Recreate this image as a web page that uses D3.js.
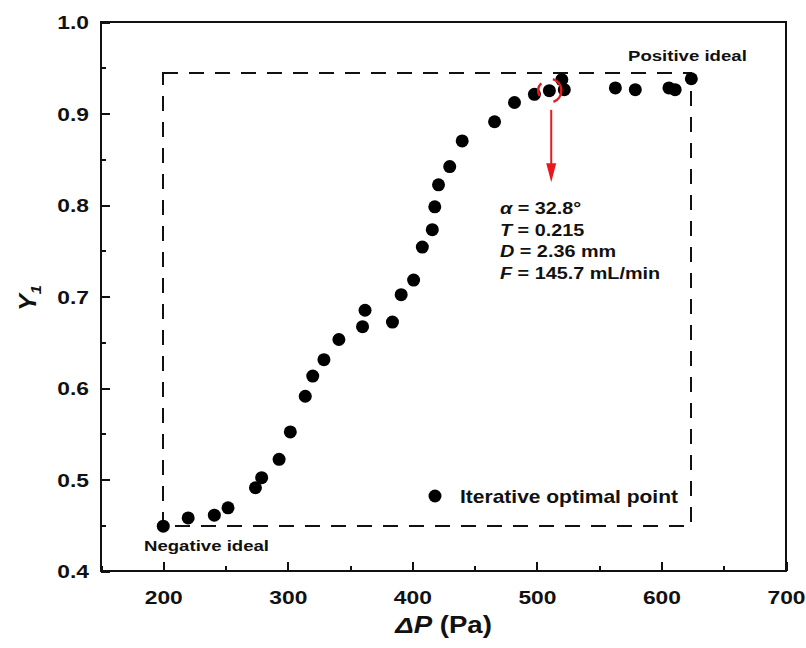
<!DOCTYPE html>
<html>
<head>
<meta charset="utf-8">
<script src="https://cdn.jsdelivr.net/npm/d3@7"></script>
<style>
  body { margin: 0; background: #fff; }
  text { font-family: 'Liberation Sans', Arial, sans-serif; font-weight: bold; fill: #111; }
</style>
</head>
<body>
<div class="container-y1"></div>
<script>
// iterative optimal points (ΔP in Pa, Y1)
const pressure = [200, 220, 241, 252, 274, 279, 293, 302, 314, 320, 329, 341, 360, 362, 384,
  391, 401, 408, 416, 418, 421, 430, 440, 466, 482, 498, 510, 520, 522, 563, 579, 606, 611, 624];
const y1 = [0.449, 0.458, 0.461, 0.469, 0.491, 0.502, 0.522, 0.552, 0.591, 0.613, 0.631, 0.653, 0.667, 0.685, 0.672,
  0.702, 0.718, 0.754, 0.773, 0.798, 0.822, 0.842, 0.870, 0.891, 0.912, 0.921, 0.925, 0.937, 0.926, 0.928, 0.926, 0.928, 0.926, 0.938];

const xTicks = [200, 300, 400, 500, 600, 700];
const xMinorTicks = [150, 250, 350, 450, 550, 650];
const yTicks = [0.4, 0.5, 0.6, 0.7, 0.8, 0.9, 1.0];
const yMinorTicks = [0.45, 0.55, 0.65, 0.75, 0.85, 0.95];

const negativeIdeal = [200, 0.449];
const positiveIdeal = [624, 0.944];
const chosenPoint = [510, 0.925];
const arrowFrom = [511.5, 0.904];
const arrowTo = [511.5, 0.825];
const chosenParams = [
  { sym: 'α', rest: ' = 32.8°' },
  { sym: 'T', rest: ' = 0.215' },
  { sym: 'D', rest: ' = 2.36 mm' },
  { sym: 'F', rest: ' = 145.7 mL/min' }
];
const legendLabel = 'Iterative optimal point';

const width = 806;
const height = 648;
const margin = { top: 22, right: 20, bottom: 77, left: 101 };
const stretch = 1.2;

const svg = d3.select('.container-y1')
  .append('svg')
  .attr('xmlns', 'http://www.w3.org/2000/svg')
  .attr('width', width)
  .attr('height', height);

const scaleX = d3.scaleLinear()
  .domain([150, 700])
  .range([margin.left, width - margin.right]);

const scaleY = d3.scaleLinear()
  .domain([0.4, 1.0])
  .range([height - margin.bottom, margin.top]);

const placeText = (sel, x, y) => sel
  .attr('transform', `translate(${x},${y}) scale(${stretch},1)`);

// axes, ticks point inward
const axisBottom = svg.append('g')
  .attr('class', 'axis-x')
  .attr('transform', `translate(0,${scaleY(0.4)})`);

axisBottom.append('g')
  .call(d3.axisBottom(scaleX).tickValues(xMinorTicks).tickSize(-5).tickSizeOuter(0).tickFormat(''));

axisBottom.append('g')
  .call(d3.axisBottom(scaleX).tickValues(xTicks).tickSize(-9).tickSizeOuter(0).tickFormat(d3.format('d')));

axisBottom.selectAll('text')
  .attr('y', 0)
  .attr('dy', 0)
  .attr('transform', `translate(0,33) scale(${stretch},1)`)
  .style('font-size', '19px')
  .attr('fill', '#111');

const axisLeft = svg.append('g')
  .attr('class', 'axis-y')
  .attr('transform', `translate(${scaleX(150)},0)`);

axisLeft.append('g')
  .call(d3.axisLeft(scaleY).tickValues(yMinorTicks).tickSize(-5).tickSizeOuter(0).tickFormat(''));

axisLeft.append('g')
  .call(d3.axisLeft(scaleY).tickValues(yTicks).tickSize(-9).tickSizeOuter(0).tickFormat(d3.format('.1f')));

axisLeft.selectAll('text')
  .attr('x', 0)
  .attr('dy', '0.36em')
  .attr('transform', `translate(-12,0) scale(${stretch},1)`)
  .style('font-size', '19px')
  .attr('fill', '#111');

svg.selectAll('.domain').remove();
svg.selectAll('.tick line')
  .attr('stroke', '#111')
  .attr('stroke-width', 2)
  .attr('shape-rendering', 'crispEdges');

svg.append('rect')
  .attr('class', 'frame')
  .attr('x', scaleX(150))
  .attr('y', scaleY(1.0))
  .attr('width', scaleX(700) - scaleX(150))
  .attr('height', scaleY(0.4) - scaleY(1.0))
  .attr('fill', 'none')
  .attr('stroke', '#111')
  .attr('stroke-width', 2)
  .attr('shape-rendering', 'crispEdges');

// dashed box between the ideal points
svg.append('rect')
  .attr('class', 'ideal-box')
  .attr('x', scaleX(negativeIdeal[0]))
  .attr('y', scaleY(positiveIdeal[1]))
  .attr('width', scaleX(positiveIdeal[0]) - scaleX(negativeIdeal[0]))
  .attr('height', scaleY(negativeIdeal[1]) - scaleY(positiveIdeal[1]))
  .attr('fill', 'none')
  .attr('stroke', '#111')
  .attr('stroke-width', 2)
  .attr('stroke-dasharray', '15 11')
  .attr('shape-rendering', 'crispEdges');

// points
svg.append('g')
  .attr('class', 'points')
  .selectAll('circle')
  .data(pressure)
  .enter()
  .append('circle')
  .attr('cx', d => scaleX(d))
  .attr('cy', (d, i) => scaleY(y1[i]))
  .attr('r', 6.5)
  .attr('fill', '#000');

// red marks around the chosen point
const cx = scaleX(chosenPoint[0]);
const cy = scaleY(chosenPoint[1]);
const deg = a => a * Math.PI / 180;
const arcRight = d3.path();
arcRight.arc(cx, cy, 12, deg(-73), deg(70));
const arcLeft = d3.path();
arcLeft.arc(cx, cy, 11, deg(152), deg(222));

svg.append('path')
  .attr('d', arcRight.toString() + ' ' + arcLeft.toString())
  .attr('fill', 'none')
  .attr('stroke', '#e8191c')
  .attr('stroke-width', 2.5);

const ax = scaleX(arrowFrom[0]);
svg.append('line')
  .attr('x1', ax)
  .attr('x2', ax)
  .attr('y1', scaleY(arrowFrom[1]))
  .attr('y2', scaleY(arrowTo[1]) - 15)
  .attr('stroke', '#e8191c')
  .attr('stroke-width', 2);

svg.append('path')
  .attr('d', `M${ax - 5},${scaleY(arrowTo[1]) - 19}L${ax + 5},${scaleY(arrowTo[1]) - 19}L${ax},${scaleY(arrowTo[1])}Z`)
  .attr('fill', '#e8191c');

// parameters of chosen point
const params = svg.append('g')
  .attr('class', 'params');

chosenParams.forEach((p, i) => {
  const t = params.append('text')
    .style('font-size', '16.5px');
  placeText(t, 500, 214 + i * 21.5);
  t.append('tspan')
    .style('font-style', 'italic')
    .text(p.sym);
  t.append('tspan')
    .text(p.rest);
});

// ideal labels
placeText(svg.append('text').style('font-size', '15.5px').text('Positive ideal'), 628, 61);
placeText(svg.append('text').style('font-size', '15.5px').text('Negative ideal'), 144, 551);

// legend
svg.append('circle')
  .attr('cx', 435)
  .attr('cy', 496)
  .attr('r', 6.5)
  .attr('fill', '#000');

placeText(svg.append('text').style('font-size', '17.5px').text(legendLabel), 460, 503);

// axis titles
const titleX = svg.append('text')
  .attr('text-anchor', 'middle')
  .style('font-size', '23px');
placeText(titleX, (scaleX(150) + scaleX(700)) / 2, 633);
titleX.append('tspan').style('font-style', 'italic').text('ΔP');
titleX.append('tspan').text(' (Pa)');

const titleY = svg.append('text')
  .attr('text-anchor', 'middle')
  .style('font-size', '23px')
  .attr('transform', 'translate(36,298) rotate(-90) scale(1.1,1)');
titleY.append('tspan').style('font-style', 'italic').text('Y');
titleY.append('tspan').style('font-style', 'italic').style('font-size', '15px').attr('dy', 5).text('1');
</script>
</body>
</html>
